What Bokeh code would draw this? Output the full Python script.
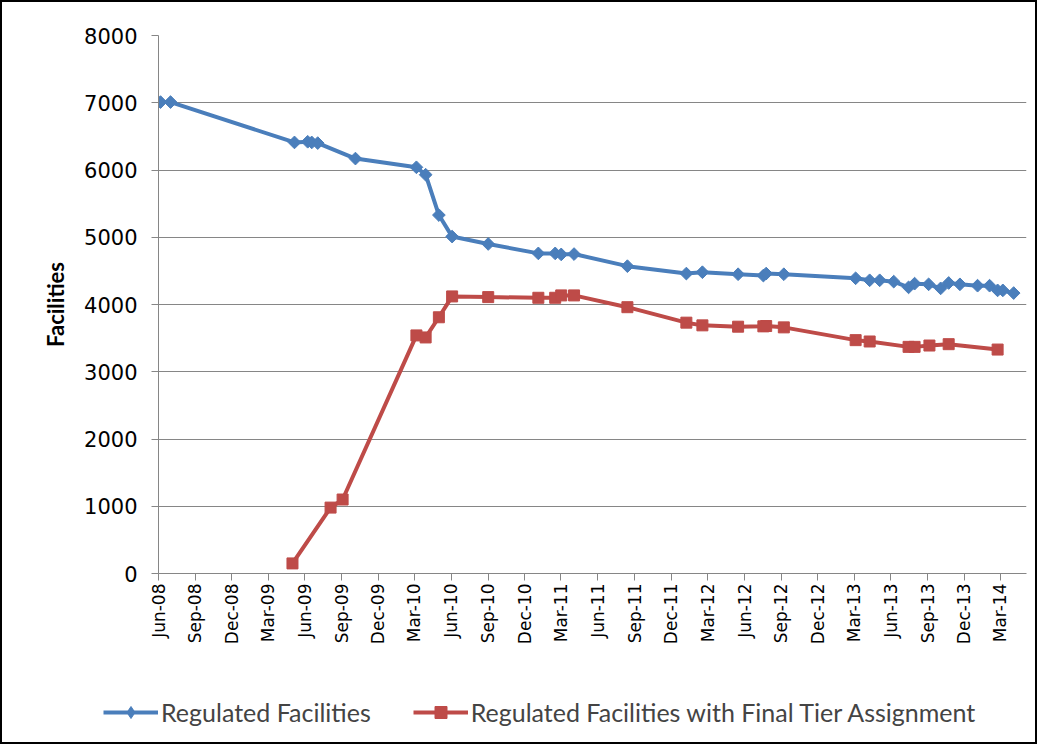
import numpy as np
import pandas as pd
from bokeh.plotting import figure
from bokeh.layouts import column
from bokeh.models import Range1d, FixedTicker, DatetimeTickFormatter, Legend, LegendItem
from bokeh.embed import file_html
from bokeh.resources import INLINE

# ---- data ----
reg_dates = ["2008-06-06", "2008-07-01", "2009-05-06", "2009-06-08", "2009-06-18", "2009-07-03",
             "2009-10-05", "2010-03-06", "2010-03-29", "2010-05-01", "2010-06-03", "2010-09-01",
             "2011-01-04", "2011-02-15", "2011-03-02", "2011-04-03", "2011-08-14", "2012-01-08",
             "2012-02-17", "2012-05-16", "2012-07-18", "2012-07-25", "2012-09-07", "2013-03-05",
             "2013-04-09", "2013-05-04", "2013-06-08", "2013-07-15", "2013-07-30", "2013-09-03",
             "2013-10-03", "2013-10-23", "2013-11-20", "2014-01-03", "2014-02-02", "2014-02-22",
             "2014-03-07", "2014-04-03"]
reg_values = [7010, 7010, 6410, 6420, 6410, 6400,
              6170, 6040, 5930, 5330, 5010, 4900,
              4760, 4760, 4745, 4750, 4570, 4460,
              4480, 4450, 4430, 4460, 4450, 4390,
              4360, 4360, 4340, 4255, 4310, 4300,
              4240, 4320, 4300, 4280, 4280, 4210,
              4210, 4170]

tier_dates = ["2009-05-01", "2009-08-04", "2009-09-03", "2010-03-06", "2010-03-29", "2010-05-01",
              "2010-06-03", "2010-09-01", "2011-01-04", "2011-02-15", "2011-03-02", "2011-04-03",
              "2011-08-14", "2012-01-08", "2012-02-17", "2012-05-16", "2012-07-18", "2012-07-25",
              "2012-09-07", "2013-03-05", "2013-04-09", "2013-07-15", "2013-07-30", "2013-09-05",
              "2013-10-23", "2014-02-22"]
tier_values = [150, 980, 1100, 3540, 3510, 3810,
               4120, 4110, 4100, 4100, 4135, 4135,
               3960, 3730, 3690, 3670, 3675, 3680,
               3660, 3470, 3450, 3370, 3370, 3390,
               3410, 3330]

tick_dates = ["2008-06-01", "2008-09-01", "2008-12-01", "2009-03-01", "2009-06-01", "2009-09-01",
              "2009-12-01", "2010-03-01", "2010-06-01", "2010-09-01", "2010-12-01", "2011-03-01",
              "2011-06-01", "2011-09-01", "2011-12-01", "2012-03-01", "2012-06-01", "2012-09-01",
              "2012-12-01", "2013-03-01", "2013-06-01", "2013-09-01", "2013-12-01", "2014-03-01"]
y_ticks = [0, 1000, 2000, 3000, 4000, 5000, 6000, 7000, 8000]

series_names = ["Regulated Facilities", "Regulated Facilities with Final Tier Assignment"]

BLUE = "#4A7EBB"
RED = "#BE4B48"
GRID = "#868686"

reg_x = pd.to_datetime(reg_dates)
tier_x = pd.to_datetime(tier_dates)
tick_ms = [pd.Timestamp(d).value // 10**6 for d in tick_dates]

W = 1037
p = figure(width=W, height=680, x_axis_type="datetime",
           output_backend="svg", toolbar_location=None,
           x_range=Range1d(pd.Timestamp("2008-06-01"), pd.Timestamp("2014-05-05")),
           y_range=Range1d(0, 8000),
           min_border_left=158, min_border_right=11, min_border_top=35, min_border_bottom=107)
p.outline_line_color = None
p.background_fill_color = "white"
p.border_fill_alpha = 0
p.styles = {"box-shadow": "inset 2px 2px 0 0 #000000, inset -2px 0 0 0 #000000"}

p.line(reg_x, reg_values, line_color=BLUE, line_width=4)
p.scatter(reg_x, reg_values, marker="square", angle=np.pi / 4, size=9,
          fill_color=BLUE, line_color=BLUE)
p.line(tier_x, tier_values, line_color=RED, line_width=4)
p.scatter(tier_x, tier_values, marker="square", size=11,
          fill_color=RED, line_color=RED)

# axes
p.xaxis.ticker = FixedTicker(ticks=tick_ms)
p.xaxis.formatter = DatetimeTickFormatter(days="%b-%y", months="%b-%y", years="%b-%y",
                                          hours="%b-%y", minutes="%b-%y")
p.xaxis.major_label_orientation = np.pi / 2
p.yaxis.ticker = FixedTicker(ticks=y_ticks)
for ax in (p.xaxis[0], p.yaxis[0]):
    ax.axis_line_color = GRID
    ax.major_tick_line_color = GRID
    ax.minor_tick_line_color = None
    ax.major_tick_in = 0
    ax.major_tick_out = 7
    ax.major_label_text_color = "black"
    ax.major_label_text_font = "DejaVu Sans"
p.xaxis.major_label_text_font_size = "17px"
p.xaxis.major_label_standoff = 3
p.yaxis.major_label_text_font_size = "21px"
p.yaxis.major_label_standoff = 14
p.yaxis.axis_label = "Facilities"
p.yaxis.axis_label_text_font = "Lato"
p.yaxis.axis_label_text_font_style = "bold"
p.yaxis.axis_label_text_font_size = "22px"
p.yaxis.axis_label_text_color = "black"
p.yaxis.axis_label_standoff = 12

p.ygrid.grid_line_color = GRID
p.ygrid.grid_line_width = 1
p.xgrid.grid_line_color = None

# legend strip below the chart (swatch renderers sit outside the visible range)
q = figure(width=W, height=64, output_backend="svg", toolbar_location=None,
           x_range=Range1d(0, 1), y_range=Range1d(0, 1),
           min_border=0, min_border_left=0, min_border_right=0,
           min_border_top=0, min_border_bottom=0)
q.axis.visible = False
q.grid.visible = False
q.outline_line_color = None
q.background_fill_alpha = 0
q.border_fill_alpha = 0
q.styles = {"box-shadow": "inset 2px -2px 0 0 #000000, inset -2px 0 0 0 #000000"}
hidden = [-5.0, -4.0]
ql1 = q.line(hidden, hidden, line_color=BLUE, line_width=4)
qs1 = q.scatter(hidden, hidden, marker="diamond", size=9,
                fill_color=BLUE, line_color=BLUE)
ql2 = q.line(hidden, hidden, line_color=RED, line_width=4)
qs2 = q.scatter(hidden, hidden, marker="square", size=11, fill_color=RED, line_color=RED)

legend = Legend(items=[LegendItem(label=series_names[0], renderers=[ql1, qs1]),
                       LegendItem(label=series_names[1], renderers=[ql2, qs2])],
                orientation="horizontal", location=(103, 17),
                glyph_width=55, glyph_height=30, label_standoff=3, spacing=42,
                padding=0, margin=0,
                label_text_font="Lato", label_text_font_size="25px",
                background_fill_alpha=0, border_line_alpha=0)
q.add_layout(legend, "center")

layout = column(p, column(q), spacing=0, styles={"background-color": "white"})

open("out.html", "w").write(file_html(layout, INLINE))
